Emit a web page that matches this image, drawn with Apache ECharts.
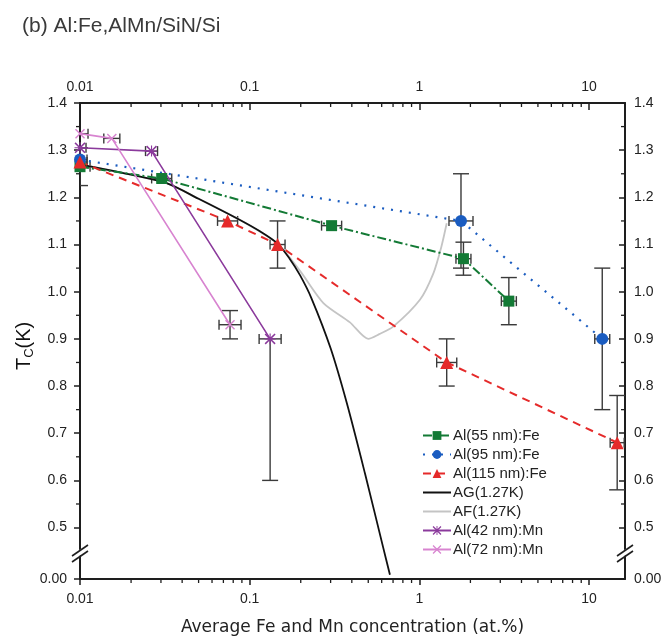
<!DOCTYPE html>
<html><head><meta charset="utf-8">
<script src="https://cdn.jsdelivr.net/npm/echarts@6/dist/echarts.min.js"></script>
<style>html,body{margin:0;padding:0;background:#fff}#c{width:667px;height:643px}</style>
</head><body><div id="c"></div>
<script>
// ---- axis ranges / ticks ----
const X_MIN = 0.01, X_MAX = 16.3, Y_MIN = 0.391, Y_MAX = 1.4;
const Y_TICKS = [0.391, 0.5, 0.6, 0.7, 0.8, 0.9, 1.0, 1.1, 1.2, 1.3, 1.4];
const Y_TICK_LABELS = ['0.00', '0.5', '0.6', '0.7', '0.8', '0.9', '1.0', '1.1', '1.2', '1.3', '1.4'];
const Y_MINOR = [0.55, 0.65, 0.75, 0.85, 0.95, 1.05, 1.15, 1.25, 1.35];
const X_MINOR = [0.02,0.03,0.04,0.05,0.06,0.07,0.08,0.09,0.2,0.3,0.4,0.5,0.6,0.7,0.8,0.9,2,3,4,5,6,7,8,9];

// ---- Al(55 nm):Fe ----
const G_X = [0.01, 0.0303, 0.304, 1.82, 3.37];
const G_Y = [1.265, 1.24, 1.14, 1.07, 0.98];
const G_XF = [1.146, 1.146, 1.146, 1.107, 1.107];
const G_YE = [0.04, 0.01, 0.008, 0.035, 0.05];
// ---- Al(95 nm):Fe ----
const B_X = [0.01, 1.76, 11.97];
const B_Y = [1.28, 1.15, 0.90];
const B_XF = [1.1, 1.177, 1.107];
const B_YE = [0.01, 0.10, 0.15];
// ---- Al(115 nm):Fe ----
const R_X = [0.01, 0.0741, 0.146, 1.45, 14.66];
const R_Y = [1.275, 1.15, 1.10, 0.85, 0.68];
const R_XF = [1.1, 1.146, 1.107, 1.146, 1.1];
const R_YE = [0.01, 0.01, 0.05, 0.05, 0.10];
// ---- AG(1.27K) ----
const AG_X = [0.01, 0.02, 0.0324, 0.05, 0.0877, 0.115, 0.146, 0.172, 0.198, 0.232, 0.30, 0.373, 0.478, 0.612, 0.671];
const AG_Y = [1.27, 1.248, 1.23, 1.197, 1.152, 1.128, 1.102, 1.07, 1.035, 0.985, 0.88, 0.765, 0.615, 0.458, 0.40];
// ---- AF(1.27K) ----
const AF_X = [0.01, 0.02, 0.0324, 0.05, 0.0877, 0.146, 0.2, 0.272, 0.39, 0.5, 0.58, 0.701, 1.008, 1.21, 1.35, 1.45];
const AF_Y = [1.27, 1.248, 1.23, 1.197, 1.152, 1.102, 1.042, 0.976, 0.935, 0.90, 0.91, 0.926, 0.983, 1.039, 1.096, 1.145];
// ---- Al(42 nm):Mn ----
const P_X = [0.01, 0.0264, 0.132];
const P_Y = [1.305, 1.298, 0.90];
const P_XF = [1.085, 1.085, 1.161];
const P_YLO = [0.01, 0.01, 0.30];
const P_YHI = [0.01, 0.01, 0.0];
// ---- Al(72 nm):Mn ----
const K_X = [0.01, 0.0154, 0.0766];
const K_Y = [1.335, 1.325, 0.93];
const K_XF = [1.115, 1.115, 1.161];
const K_YE = [0.01, 0.01, 0.03];

const NAMES = ['Al(55 nm):Fe', 'Al(95 nm):Fe', 'Al(115 nm):Fe', 'AG(1.27K)', 'AF(1.27K)', 'Al(42 nm):Mn', 'Al(72 nm):Mn'];
const C_GREEN = '#137a35', C_BLUE = '#1a5cc0', C_RED = '#e52a2a', C_PURPLE = '#8b3a9c', C_PINK = '#d884d0';

const SYM_X = 'path://M2,0L10,8L18,0L20,2L12,10L20,18L18,20L10,12L2,20L0,18L8,10L0,2Z';
const SYM_STAR = SYM_X + 'M0,9L20,9L20,11L0,11ZM9,0L11,0L11,20L9,20Z';

const zip = (xs, ys) => xs.map((x, i) => [x, ys[i]]);

function errSeries(xs, ys, xf, ylo, yhi) {
  return {
    type: 'custom', silent: true, z: 1, clip: true,
    encode: { x: 0, y: 1 },
    data: xs.map((x, i) => [x, ys[i], x / xf[i], x * xf[i], ys[i] - ylo[i], ys[i] + yhi[i]]),
    renderItem: function (params, api) {
      const x = api.value(0), y = api.value(1);
      const c = api.coord([x, y]);
      const l = api.coord([api.value(2), y]);
      const r = api.coord([api.value(3), y]);
      const lo = api.coord([x, api.value(4)]);
      const hi = api.coord([x, api.value(5)]);
      const st = { stroke: '#3a3a3a', lineWidth: 1.4, fill: null };
      const ch = [
        { type: 'line', shape: { x1: l[0], y1: c[1], x2: r[0], y2: c[1] }, style: st },
        { type: 'line', shape: { x1: l[0], y1: c[1] - 5, x2: l[0], y2: c[1] + 5 }, style: st },
        { type: 'line', shape: { x1: r[0], y1: c[1] - 5, x2: r[0], y2: c[1] + 5 }, style: st }
      ];
      if (lo[1] - c[1] > 6) {
        ch.push({ type: 'line', shape: { x1: c[0], y1: c[1], x2: c[0], y2: lo[1] }, style: st });
        ch.push({ type: 'line', shape: { x1: c[0] - 8, y1: lo[1], x2: c[0] + 8, y2: lo[1] }, style: st });
      }
      if (c[1] - hi[1] > 6) {
        ch.push({ type: 'line', shape: { x1: c[0], y1: c[1], x2: c[0], y2: hi[1] }, style: st });
        ch.push({ type: 'line', shape: { x1: c[0] - 8, y1: hi[1], x2: c[0] + 8, y2: hi[1] }, style: st });
      }
      return { type: 'group', children: ch };
    }
  };
}

const AX = '#1e1e1e';
const FONT = 'Liberation Sans, Arial, sans-serif';

const chart = echarts.init(document.getElementById('c'), null, { renderer: 'canvas' });
const option = {
  animation: false,
  backgroundColor: '#fff',
  title: {
    text: '(b) Al:Fe,AlMn/SiN/Si', left: 17, top: 11,
    textStyle: { fontFamily: FONT, fontSize: 21, fontWeight: 'normal', color: '#3a3a3a' }
  },
  grid: { left: 80, right: 42, top: 103, bottom: 64, containLabel: false },
  legend: {
    data: NAMES.map((n, i) => (i === 3 || i === 4) ? { name: n, itemStyle: { opacity: 0 } } : { name: n }),
    orient: 'vertical', left: 417, top: 423,
    itemWidth: 28, itemHeight: 11, itemGap: 4,
    textStyle: { fontFamily: FONT, fontSize: 15, color: '#222', padding: [0, 0, 0, -3] }
  },
  xAxis: [
    {
      type: 'log', logBase: 10, min: X_MIN, max: X_MAX, position: 'bottom',
      name: 'Average Fe and Mn concentration (at.%)', nameLocation: 'middle', nameGap: 40,
      nameTextStyle: { fontFamily: 'DejaVu Sans, sans-serif', fontSize: 17, color: '#222' },
      axisLine: { lineStyle: { color: AX, width: 2 } },
      axisTick: { inside: false, length: 6, lineStyle: { color: AX, width: 1.5 } },
      axisLabel: { margin: 13, fontFamily: FONT, fontSize: 14, color: '#222', showMaxLabel: false },
      splitLine: { show: false }
    },
    {
      type: 'log', logBase: 10, min: X_MIN, max: X_MAX, position: 'top',
      axisLine: { lineStyle: { color: AX, width: 2 } },
      axisTick: { inside: true, length: 7, lineStyle: { color: AX, width: 1.5 } },
      axisLabel: { margin: 9, fontFamily: FONT, fontSize: 14, color: '#222', showMaxLabel: false },
      splitLine: { show: false }
    }
  ],
  yAxis: [
    {
      type: 'value', min: Y_MIN, max: Y_MAX, position: 'left',
      axisLine: { show: true, lineStyle: { color: AX, width: 2 } },
      axisTick: { show: true, inside: false, length: 6, customValues: Y_TICKS, lineStyle: { color: AX, width: 1.5 } },
      axisLabel: { margin: 13, fontFamily: FONT, fontSize: 14, color: '#222', customValues: Y_TICKS,
        formatter: v => Y_TICK_LABELS[Y_TICKS.findIndex(t => Math.abs(t - v) < 1e-6)] },
      splitLine: { show: false }
    },
    {
      type: 'value', min: Y_MIN, max: Y_MAX, position: 'right',
      axisLine: { show: true, lineStyle: { color: AX, width: 2 } },
      axisTick: { show: true, inside: true, length: 6, customValues: Y_TICKS, lineStyle: { color: AX, width: 1.5 } },
      axisLabel: { margin: 9, fontFamily: FONT, fontSize: 14, color: '#222', customValues: Y_TICKS,
        formatter: v => Y_TICK_LABELS[Y_TICKS.findIndex(t => Math.abs(t - v) < 1e-6)] },
      splitLine: { show: false }
    }
  ],
  graphic: [
    {
      type: 'text', x: 12, y: 370, rotation: Math.PI / 2,
      style: {
        text: '{a|T}{b|C}{a|(K)}',
        rich: {
          a: { fontFamily: FONT, fontSize: 20, fill: '#111', lineHeight: 24, verticalAlign: 'middle' },
          b: { fontFamily: FONT, fontSize: 13, fill: '#111', lineHeight: 24, verticalAlign: 'bottom', padding: [10, 0, 0, 0] }
        }
      }
    },
    // axis break marks
    { type: 'polygon', shape: { points: [[72, 561], [88, 550], [88, 544], [72, 555]] }, style: { fill: '#fff' }, z: 100 },
    { type: 'line', shape: { x1: 72, y1: 562, x2: 88, y2: 551 }, style: { stroke: AX, lineWidth: 1.6 }, z: 101 },
    { type: 'line', shape: { x1: 72, y1: 556, x2: 88, y2: 545 }, style: { stroke: AX, lineWidth: 1.6 }, z: 101 },
    { type: 'polygon', shape: { points: [[617, 561], [633, 550], [633, 544], [617, 555]] }, style: { fill: '#fff' }, z: 100 },
    { type: 'line', shape: { x1: 617, y1: 562, x2: 633, y2: 551 }, style: { stroke: AX, lineWidth: 1.6 }, z: 101 },
    { type: 'line', shape: { x1: 617, y1: 556, x2: 633, y2: 545 }, style: { stroke: AX, lineWidth: 1.6 }, z: 101 }
  ],
  series: [
    // minor ticks (x)
    {
      type: 'custom', silent: true, z: 5, clip: false, encode: { x: 0, y: 1 },
      data: X_MINOR.map(v => [v, Y_MAX]),
      renderItem: function (params, api) {
        const b = api.coord([api.value(0), Y_MIN]);
        const t = api.coord([api.value(0), Y_MAX]);
        const st = { stroke: AX, lineWidth: 1.3 };
        return { type: 'group', children: [
          { type: 'line', shape: { x1: b[0], y1: b[1], x2: b[0], y2: b[1] + 4 }, style: st },
          { type: 'line', shape: { x1: t[0], y1: t[1], x2: t[0], y2: t[1] + 4 }, style: st }
        ] };
      }
    },
    // minor ticks (y)
    {
      type: 'custom', silent: true, z: 5, clip: false, encode: { x: 0, y: 1 },
      data: Y_MINOR.map(v => [X_MIN, v]),
      renderItem: function (params, api) {
        const l = api.coord([X_MIN, api.value(1)]);
        const r = api.coord([X_MAX, api.value(1)]);
        const st = { stroke: AX, lineWidth: 1.3 };
        return { type: 'group', children: [
          { type: 'line', shape: { x1: l[0] - 4, y1: l[1], x2: l[0], y2: l[1] }, style: st },
          { type: 'line', shape: { x1: r[0] - 4, y1: r[1], x2: r[0], y2: r[1] }, style: st }
        ] };
      }
    },
    errSeries(G_X, G_Y, G_XF, G_YE, G_YE),
    errSeries(B_X, B_Y, B_XF, B_YE, B_YE),
    errSeries(R_X, R_Y, R_XF, R_YE, R_YE),
    errSeries(P_X, P_Y, P_XF, P_YLO, P_YHI),
    errSeries(K_X, K_Y, K_XF, K_YE, K_YE),
    {
      name: NAMES[4], type: 'line', data: zip(AF_X, AF_Y), symbol: 'none', smooth: 0.25, z: 2,
      lineStyle: { color: '#c4c4c4', width: 1.8 }, itemStyle: { color: '#c4c4c4' }
    },
    {
      name: NAMES[3], type: 'line', data: zip(AG_X, AG_Y), symbol: 'none', smooth: 0.3, z: 2,
      lineStyle: { color: '#111', width: 1.8 }, itemStyle: { color: '#111' }
    },
    {
      name: NAMES[0], type: 'line', data: zip(G_X, G_Y), symbol: 'rect', symbolSize: 11, z: 3,
      lineStyle: { color: C_GREEN, width: 2, type: [9, 3, 2, 3] }, itemStyle: { color: C_GREEN }
    },
    {
      name: NAMES[1], type: 'line', data: zip(B_X, B_Y), symbol: 'circle', symbolSize: 12, z: 3,
      lineStyle: { color: C_BLUE, width: 2.2, type: [2, 7] }, itemStyle: { color: C_BLUE }
    },
    {
      name: NAMES[2], type: 'line', data: zip(R_X, R_Y), symbol: 'triangle', symbolSize: 13, z: 3,
      lineStyle: { color: C_RED, width: 2, type: [8, 6] }, itemStyle: { color: C_RED }
    },
    {
      name: NAMES[5], type: 'line', data: zip(P_X, P_Y), symbol: SYM_STAR, symbolSize: 11, z: 3,
      lineStyle: { color: C_PURPLE, width: 1.6 }, itemStyle: { color: C_PURPLE }
    },
    {
      name: NAMES[6], type: 'line', data: zip(K_X, K_Y), symbol: SYM_X, symbolSize: 10, z: 3,
      lineStyle: { color: C_PINK, width: 1.6 }, itemStyle: { color: C_PINK }
    }
  ]
};
chart.setOption(option);
</script>
</body></html>
